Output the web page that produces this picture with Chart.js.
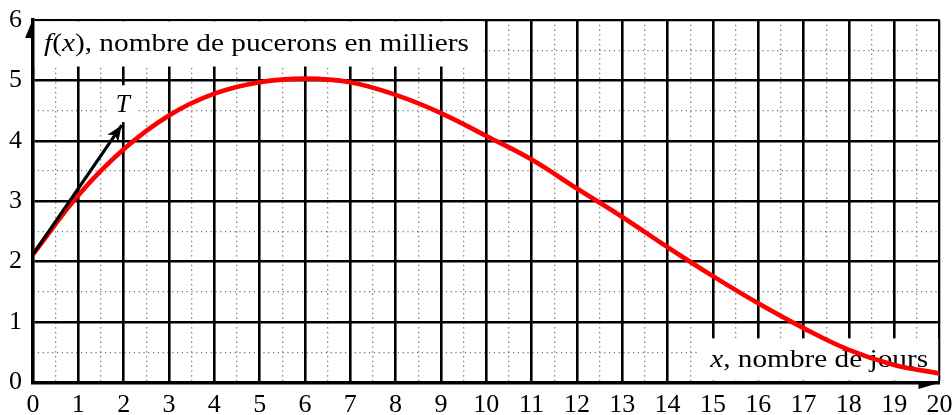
<!DOCTYPE html>
<html><head><meta charset="utf-8">
<script src="https://cdn.jsdelivr.net/npm/chart.js@4/dist/chart.umd.min.js"></script>
<style>html,body{margin:0;padding:0;background:#fff;overflow:hidden}canvas{display:block}</style>
</head><body>
<canvas id="c" width="952" height="415"></canvas>
<script>
// ---- data ----
const days = [0,1,2,3,4,5,6,7,8,9,10,11,12,13,14,15,16,17,18,19,20];
const aphids = [2.12,3.10,3.86,4.42,4.78,4.97,5.03,4.97,4.76,4.46,4.08,3.69,3.21,2.74,2.24,1.76,1.31,0.90,0.54,0.29,0.15];
const tangentX = [0, 1.96];
const tangentY = [2.12, 4.26];
const xMin = 0, xMax = 20, yMin = 0, yMax = 6;
const yTitleRuns = [{t:'f',it:true},{t:'(',it:false},{t:'x',it:true},{t:'), nombre de pucerons en milliers',it:false}];
const xTitleRuns = [{t:'x',it:true},{t:', nombre de jours',it:false}];
const tangentName = [{t:'T',it:true}];

const FONT = '"Liberation Serif", "Times New Roman", serif';

function drawRuns(ctx, runs, left, baseline, targetWidth, size) {
  const fonts = runs.map(r => (r.it ? 'italic ' : '') + size + 'px ' + FONT);
  let total = 0;
  runs.forEach((r, i) => { ctx.font = fonts[i]; total += ctx.measureText(r.t).width; });
  const sx = targetWidth ? targetWidth / total : 1;
  ctx.save();
  ctx.translate(left, baseline);
  ctx.scale(sx, 1);
  ctx.textBaseline = 'alphabetic'; ctx.textAlign = 'left'; ctx.fillStyle = '#000';
  let cx = 0;
  runs.forEach((r, i) => { ctx.font = fonts[i]; ctx.fillText(r.t, cx, 0); cx += ctx.measureText(r.t).width; });
  ctx.restore();
}

const overlay = {
  id: 'overlay',
  beforeDatasetsDraw(chart) {
    const {ctx} = chart;
    const x = chart.scales.x, y = chart.scales.y;
    const px = v => x.getPixelForValue(v), py = v => y.getPixelForValue(v);
    ctx.save();
    ctx.fillStyle = '#fff';
    ctx.fillRect(px(0) + 1.8, py(6) + 1.3, px(9.93) - px(0) - 1.8, py(5.23) - py(6) - 1.3);
    ctx.fillRect(px(14.65), py(0.73), px(20) - px(14.65) - 1.3, py(0) - py(0.73) - 1.8);
    ctx.fillRect(px(1.63), py(4.92), px(2.25) - px(1.63), py(4.31) - py(4.92));
    ctx.restore();
    drawRuns(ctx, yTitleRuns, px(0) + 11, py(6) + 31, 425, 25.5);
    drawRuns(ctx, xTitleRuns, px(14.94), py(0) - 16, 218, 25.5);
    drawRuns(ctx, tangentName, px(2) - 8, py(4.31) - 10, 0, 25.5);
  },
  afterDatasetsDraw(chart) {
    const {ctx} = chart;
    const x = chart.scales.x, y = chart.scales.y;
    const px = v => x.getPixelForValue(v), py = v => y.getPixelForValue(v);
    ctx.save();
    ctx.fillStyle = '#000';
    const x0 = px(tangentX[0]), y0 = py(tangentY[0]);
    const x1 = px(tangentX[1]), y1 = py(tangentY[1]);
    const ang = Math.atan2(y1 - y0, x1 - x0);
    const L = 16, W = 6.5, N = 4;
    const c = Math.cos(ang), s = Math.sin(ang);
    const pt = (a, b) => [x1 + a * c - b * s, y1 + a * s + b * c];
    ctx.beginPath();
    let p = pt(0, 0); ctx.moveTo(p[0], p[1]);
    p = pt(-L, W); ctx.lineTo(p[0], p[1]);
    p = pt(-L + N, 0); ctx.lineTo(p[0], p[1]);
    p = pt(-L, -W); ctx.lineTo(p[0], p[1]);
    ctx.closePath(); ctx.fill();
    const ax = px(xMax) + 1, ay = py(yMin);
    ctx.beginPath(); ctx.moveTo(ax, ay); ctx.lineTo(ax - 22, ay + 6.5); ctx.lineTo(ax - 22, ay); ctx.closePath(); ctx.fill();
    const bx = px(xMin), by = py(yMax) - 1;
    ctx.beginPath(); ctx.moveTo(bx, by); ctx.lineTo(bx - 8, by + 19); ctx.lineTo(bx, by + 19); ctx.closePath(); ctx.fill();
    ctx.restore();
  }
};

const minorColor = c => (c.tick && Math.abs(c.tick.value % 1) > 1e-6) ? '#707070' : 'rgba(0,0,0,0)';

new Chart(document.getElementById('c'), {
  type: 'line',
  data: {
    datasets: [
      {
        label: 'T',
        data: tangentX.map((v, i) => ({x: v, y: tangentY[i]})),
        borderColor: '#000', borderWidth: 3.2, pointRadius: 0, tension: 0, borderCapStyle: 'butt'
      },
      {
        label: 'f',
        data: days.map((v, i) => ({x: v, y: aphids[i]})),
        borderColor: '#ff0000', borderWidth: 4.6, pointRadius: 0, tension: 0.4,
        cubicInterpolationMode: 'default', borderJoinStyle: 'round'
      }
    ]
  },
  options: {
    responsive: false, animation: false, devicePixelRatio: 1,
    layout: {padding: {left: 0, top: 20, right: 12.5, bottom: 0}},
    plugins: {legend: {display: false}, tooltip: {enabled: false}},
    scales: {
      xm: {
        type: 'linear', position: 'bottom', min: xMin, max: xMax,
        ticks: {display: false, stepSize: 0.5},
        grid: {color: minorColor, lineWidth: 1.3, drawTicks: false, z: -2},
        border: {display: false, dash: [1.2, 3.6]},
        afterFit(s) { s.height = 0; s.paddingLeft = 0; s.paddingRight = 0; }
      },
      ym: {
        type: 'linear', position: 'left', min: yMin, max: yMax,
        ticks: {display: false, stepSize: 0.5},
        grid: {color: minorColor, lineWidth: 1.3, drawTicks: false, z: -2},
        border: {display: false, dash: [1.2, 3.6]},
        afterFit(s) { s.width = 0; s.paddingTop = 0; s.paddingBottom = 0; }
      },
      x: {
        type: 'linear', position: 'bottom', min: xMin, max: xMax,
        ticks: {stepSize: 1, autoSkip: false, maxRotation: 0, padding: 7, color: '#000',
                font: {family: FONT, size: 26}, callback: v => String(v)},
        grid: {color: '#000', lineWidth: c => (c.tick && c.tick.value === xMin) ? 0 : (c.tick && c.tick.value === xMax ? 2.3 : 2.6), drawTicks: false, z: -1},
        border: {display: true, color: '#000', width: 3.6},
        afterFit(s) { s.height = 32.5; s.paddingLeft = 0; s.paddingRight = 0; }
      },
      y: {
        type: 'linear', position: 'left', min: yMin, max: yMax,
        ticks: {stepSize: 1, autoSkip: false, padding: 11, color: '#000',
                font: {family: FONT, size: 26}, callback: v => String(v)},
        grid: {color: '#000', lineWidth: c => (c.tick && c.tick.value === yMin) ? 0 : (c.tick && c.tick.value === yMax ? 2.3 : 2.6), drawTicks: false, z: -1},
        border: {display: true, color: '#000', width: 3.6},
        afterFit(s) { s.width = 33; s.paddingTop = 0; s.paddingBottom = 0; }
      }
    }
  },
  plugins: [overlay]
});
</script>
</body></html>
